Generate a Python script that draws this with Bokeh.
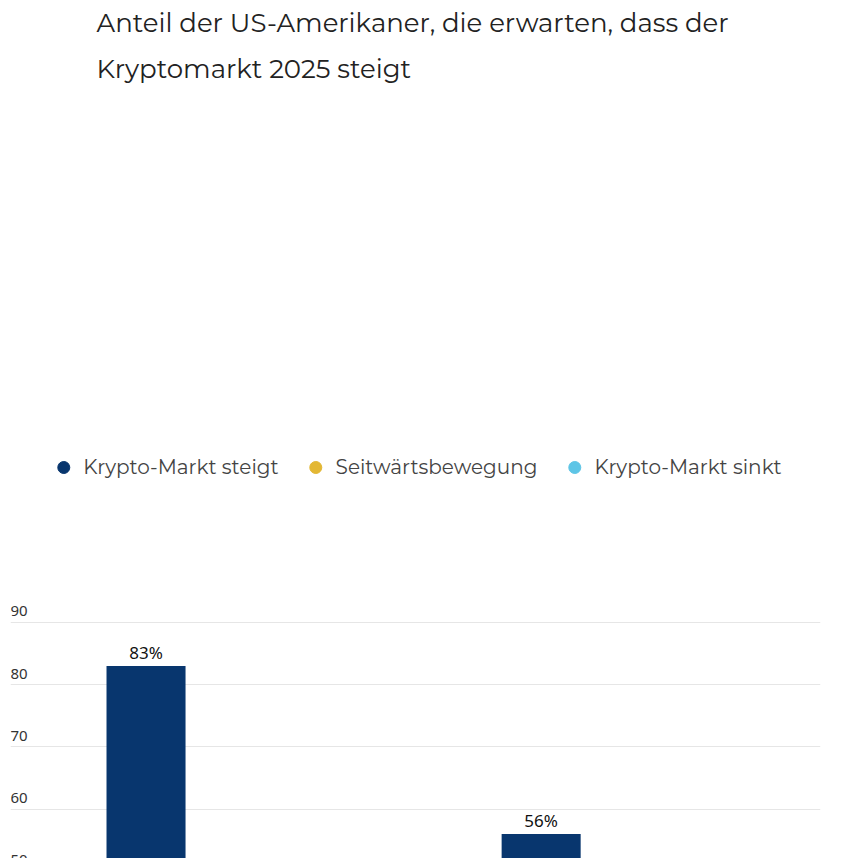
from bokeh.plotting import figure
from bokeh.models import Range1d, FixedTicker, Legend, LegendItem, Title, ColumnDataSource
from bokeh.core.properties import value
from bokeh.embed import file_html
from bokeh.resources import INLINE

categories = ["Krypto-Besitzer", "Krypto-Nichtbesitzer"]
series_names = ["Krypto-Markt steigt", "Seitwärtsbewegung", "Krypto-Markt sinkt"]
steigt = [83, 56]
seitwaerts = [13, 31]
sinkt = [3, 13]
colors = ["#08366e", "#e3b734", "#5ec5e6"]
y_ticks = [0, 10, 20, 30, 40, 50, 60, 70, 80, 90]

p = figure(frame_width=810, frame_height=580, output_backend="svg", toolbar_location=None,
           x_range=Range1d(-0.55, 1.5), y_range=Range1d(0, 93.2),
           min_border_left=10, min_border_right=12, min_border_top=8, min_border_bottom=6)
p.title.text = "Anteil der US-Amerikaner, die erwarten, dass der\nKryptomarkt 2025 steigt"
p.title.text_font = "Montserrat, Lato"
p.title.text_font_size = "26px"
p.title.text_font_style = "normal"
p.title.text_color = "#222222"
p.title.offset = 86
p.title.text_line_height = 1.45

xs = list(range(len(categories)))
offsets = [-0.207, 0.0, 0.207]
items = []
for vals, name, col, off in zip([steigt, seitwaerts, sinkt], series_names, colors, offsets):
    src = ColumnDataSource(dict(x=[x + off for x in xs], top=vals,
                                lab=[f"{v}%" for v in vals]))
    p.vbar(x="x", top="top", width=0.2, source=src, color=col, line_color=None)
    p.text(x="x", y="top", text="lab", source=src, text_align="center",
           text_baseline="bottom", y_offset=-2, text_font=value("Noto Sans"),
           text_font_size="17px", text_color="#111111")
    dummy = p.scatter(x=[xs[0]], y=[-50], marker="circle", size=22, color=col)
    items.append(LegendItem(label=name, renderers=[dummy]))

legend = Legend(items=items, orientation="horizontal", location="center",
                label_text_font="Montserrat, Lato", label_text_font_size="20px",
                label_text_color="#444444", glyph_width=30, glyph_height=30,
                spacing=22, border_line_color=None, margin=6, padding=4)
p.add_layout(legend, "above")

src_title = Title(text="Quelle: security.org", align="center", text_font_style="italic",
                  text_font="Lato", text_font_size="16px", text_color="#555555")
p.add_layout(src_title, "below")

p.yaxis.visible = False
p.ygrid.ticker = FixedTicker(ticks=y_ticks)
p.ygrid.grid_line_color = "#e6e6e6"
p.xgrid.visible = False
p.outline_line_color = None

ysrc = ColumnDataSource(dict(x=[-0.55] * len(y_ticks), y=y_ticks, t=[str(v) for v in y_ticks]))
p.text(x="x", y="y", text="t", source=ysrc, text_baseline="bottom", y_offset=-6,
       text_font=value("Noto Sans"), text_font_size="15px", text_color="#333333")

p.xaxis.ticker = FixedTicker(ticks=xs, minor_ticks=[-0.5, 0.5, 1.5])
p.xaxis.major_label_overrides = {i: c for i, c in enumerate(categories)}
p.xaxis.major_tick_line_color = None
p.xaxis.minor_tick_out = 35
p.xaxis.minor_tick_in = 0
p.xaxis.minor_tick_line_color = "#333333"
p.xaxis.axis_line_color = "#333333"
p.xaxis.major_label_text_font = "Fira Sans, Noto Sans"
p.xaxis.major_label_text_font_size = "15px"
p.xaxis.major_label_text_color = "#333333"
p.xaxis.major_label_standoff = -20

open("out.html", "w").write(file_html(p, INLINE))
